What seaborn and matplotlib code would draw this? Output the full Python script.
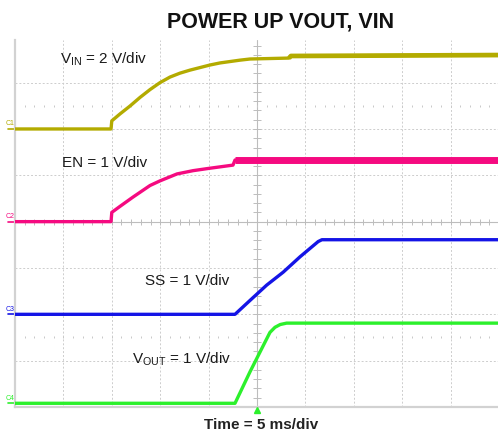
import numpy as np
import pandas as pd
import matplotlib
matplotlib.use("Agg")
import matplotlib.pyplot as plt
import matplotlib.transforms as mtransforms
import seaborn as sns

sns.set_theme(style="white")
plt.rcParams["font.family"] = ["Liberation Sans", "DejaVu Sans"]
plt.rcParams["mathtext.fontset"] = "custom"
plt.rcParams["mathtext.rm"] = "Liberation Sans"

# Time base: 5 ms/div, trigger at the screen centre (t = 0)
MS_PER_DIV = 5.0

# Channel 1: VIN (2 V/div)
vin_t = [-25.0, -15.08, -15.0, -14.15, -13.12, -12.09, -11.05, -10.02, -8.99, -7.95,
         -6.92, -5.89, -4.86, -3.82, -2.79, -1.76, -0.72, 3.31, 3.51, 24.9]
vin_v = [0.0, 0.0, 0.35, 0.65, 0.99, 1.36, 1.70, 2.00, 2.24, 2.41,
         2.54, 2.65, 2.76, 2.85, 2.91, 2.97, 3.02, 3.06, 3.15, 3.19]

# Channel 2: EN (1 V/div)
en_t = [-25.0, -15.08, -15.0, -14.15, -12.81, -11.05, -10.02, -8.26, -6.61, -4.96,
        -2.48, -2.27, 24.9]
en_v = [0.0, 0.0, 0.20, 0.33, 0.53, 0.78, 0.88, 1.03, 1.10, 1.15,
        1.22, 1.33, 1.33]

# Channel 3: SS (1 V/div)
ss_t = [-25.0, -2.27, -0.72, 1.00, 2.71, 4.44, 6.32, 6.71, 24.9]
ss_v = [0.0, 0.0, 0.30, 0.63, 0.91, 1.24, 1.57, 1.61, 1.61]

# Channel 4: VOUT (1 V/div)
vout_t = [-25.0, -2.27, -0.72, 1.34, 1.86, 2.40, 3.06, 24.9]
vout_v = [0.0, 0.0, 0.68, 1.53, 1.64, 1.70, 1.73, 1.73]

channels = ["C1", "C2", "C3", "C4"]
volts_per_div = [2.0, 1.0, 1.0, 1.0]
ground_div = [2.0, 0.0, -2.0, -3.92]
colors = ["#b3ab00", "#f50a80", "#1414e6", "#2cf02c"]
labels = ["V$_{\\mathregular{IN}}$ = 2 V/div", "EN = 1 V/div", "SS = 1 V/div",
          "V$_{\\mathregular{OUT}}$ = 1 V/div"]

series = [(vin_t, vin_v), (en_t, en_v), (ss_t, ss_v), (vout_t, vout_v)]
frames = []
for ch, (t, v), vdiv, g in zip(channels, series, volts_per_div, ground_div):
    df = pd.DataFrame({"t": t, "v": v})
    df["ch"] = ch
    df["div"] = df["v"] / vdiv + g
    frames.append(df)
data = pd.concat(frames, ignore_index=True)

fig = plt.figure(figsize=(4.98, 4.35), dpi=100)
ax = fig.add_axes([15 / 498, 27 / 435, 483 / 498, 367 / 435])
ax.set_xlim(-25, 24.9)
ax.set_ylim(-4, 3.92)

# Graticule
grid_c = "#cdcdcd"
for x in [-20, -15, -10, -5, 5, 10, 15, 20]:
    ax.axvline(x, color=grid_c, lw=0.7, ls=(0, (2, 2)), zorder=0)
for y in [-3, -2, -1, 1, 2, 3]:
    ax.axhline(y, color=grid_c, lw=0.7, ls=(0, (2, 2)), zorder=0)
ax.axvline(0, color="#bdbdbd", lw=0.8, zorder=0)
ax.axhline(0, color="#bdbdbd", lw=0.8, zorder=0)
xt = np.arange(-25, 25.01, 1.0)
yt = np.arange(-4, 3.95, 0.2)
ax.plot(xt, np.zeros_like(xt), ls="none", marker="|", ms=5, mew=0.7, color="#bdbdbd", zorder=0)
ax.plot(np.zeros_like(yt), yt, ls="none", marker="_", ms=6, mew=0.7, color="#bdbdbd", zorder=0)
for yd in [2.5, -2.5]:
    ax.plot(xt, np.full_like(xt, yd), ls="none", marker="|", ms=2, mew=0.7, color="#c8c8c8", zorder=0)

for s in ["top", "right"]:
    ax.spines[s].set_visible(False)
for s in ["left", "bottom"]:
    ax.spines[s].set_color("#d2d2d2")
    ax.spines[s].set_linewidth(1.6)
ax.set_xticks([])
ax.set_yticks([])
ax.set_xlabel("")
ax.set_ylabel("")

# Traces
for ch, col in zip(channels, colors):
    sub = data[data["ch"] == ch]
    sns.lineplot(data=sub, x="t", y="div", color=col, lw=2.4, sort=False,
                 estimator=None, ax=ax, zorder=3)

# Thicker noise band on the settled VIN / EN levels
vin_d = data[(data["ch"] == "C1") & (data["t"] >= 3.31)]
ax.plot(vin_d["t"], vin_d["div"], color=colors[0], lw=3.4, solid_capstyle="butt", zorder=3)
en_d = data[(data["ch"] == "C2") & (data["t"] >= -2.27)]
ax.plot(en_d["t"], en_d["div"], color=colors[1], lw=5.0, solid_capstyle="butt", zorder=3)

# Channel ground markers
trans = mtransforms.blended_transform_factory(ax.transAxes, ax.transData)
for ch, col, g in zip(channels, colors, ground_div):
    ax.plot([-7 / 483, 0], [g, g], color=col, lw=1.2, transform=trans, clip_on=False)
    ax.text(-9 / 483, g + 0.06, ch, color=col, fontsize=5, transform=trans,
            ha="left", va="bottom", clip_on=False)

# Channel annotations
text_pos = [(-20.35, 3.43), (-20.18, 1.21), (-11.57, -1.34), (-12.94, -3.03)]
for lab, (tx, ty) in zip(labels, text_pos):
    ax.text(tx, ty, lab, fontsize=11, color="#1a1a1a", ha="left", va="baseline")

# Trigger position marker
ax.plot([0], [-4.06], marker="^", ms=4, color=colors[3], clip_on=False, zorder=5)

fig.text(281 / 498, 1 - 27.3 / 435, "POWER UP VOUT, VIN", fontsize=15.5,
         fontweight="bold", ha="center", va="baseline", color="#111111")
fig.text(261 / 498, 5.5 / 435, "Time = 5 ms/div", fontsize=11,
         fontweight="bold", ha="center", va="baseline", color="#222222")

fig.savefig("out.png", dpi=100)
